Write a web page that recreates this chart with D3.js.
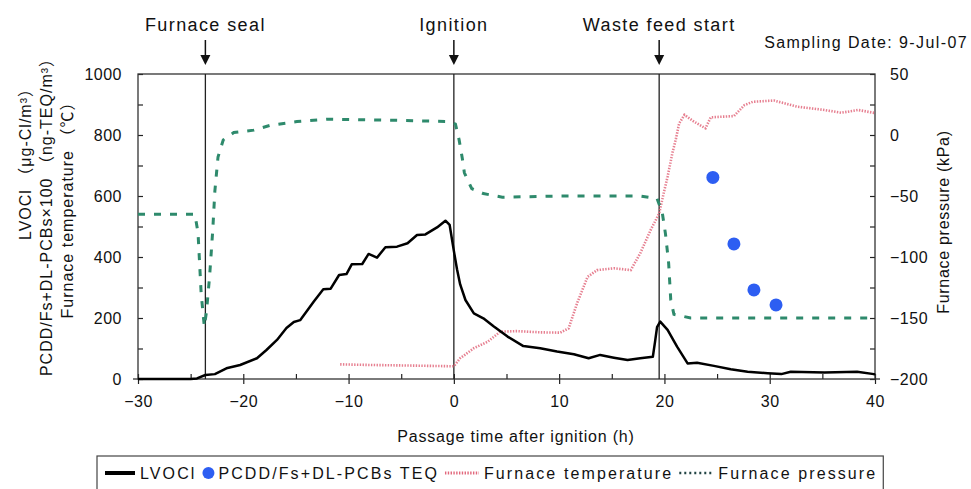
<!DOCTYPE html>
<html>
<head>
<meta charset="utf-8">
<script src="https://cdn.jsdelivr.net/npm/d3@7"></script>
<style>
body { margin: 0; background: #fff; }
text { font-family: "Liberation Sans", "Noto Sans CJK JP", sans-serif; fill: #111; }
</style>
</head>
<body>
<div id="chart"></div>
<script>
// values: [hours after ignition, value]
var lvocl = [[-30,0],[-25,0],[-24.4,2],[-23.6,13],[-22.7,16],[-21.6,35],[-20.3,46],[-18.7,68],[-17.8,95],
  [-16.8,128],[-15.9,167],[-15.2,187],[-14.6,193],[-13.3,254],[-12.4,294],[-11.7,296],[-10.9,341],[-10.2,344],
  [-9.7,376],[-8.7,377],[-8.1,410],[-7.3,398],[-6.5,432],[-5.4,434],[-4.4,445],[-3.5,472],[-2.7,474],
  [-1.6,497],[-0.8,519],[-0.4,505],[0,420],[0.3,360],[0.6,310],[1.1,259],[1.9,215],[2.8,199],[3.8,172],
  [5.1,139],[6.6,108],[8.2,101],[9.8,90],[11.4,81],[12.8,68],[13.9,79],[15.2,70],[16.5,62],[17.7,68],
  [18.9,73],[19.1,120],[19.3,170],[19.6,188],[20.3,161],[21.2,106],[22.2,51],[23.1,53],[24.7,43],[26.3,32],
  [27.9,24],[29.8,19],[31.1,16],[32,24],[35.2,21],[38.3,24],[39.9,16],[40,14]];

var teq = [[24.6,661],[26.6,443],[28.5,292],[30.6,243]];

var furnaceTemp = [[-10.8,48],[-8,46],[-4,44],[-0.5,42],[0,42],[0.6,68],[1.9,101],[3.2,122],[4.4,155],
  [6,157],[8.2,153],[10.1,152],[10.9,166],[11.7,248],[12.7,335],[13.6,357],[15.2,363],[16.8,357],[17.7,412],
  [18.7,489],[19.5,543],[20,620],[20.3,663],[20.75,740],[21.1,789],[21.4,838],[21.9,866],[22.8,844],
  [23.9,822],[24.4,858],[26.6,862],[27.6,898],[28.4,909],[30.4,913],[32.6,893],[35.2,882],[36.8,873],
  [38.4,882],[40,872]];

var furnacePressure = [[-30,-65],[-24.6,-65],[-24.3,-80],[-24,-130],[-23.7,-157],[-23.5,-145],[-23.2,-116],
  [-22.9,-78],[-22.7,-46],[-22.4,-18],[-21.9,-4],[-20.9,2],[-19,4],[-17.4,8],[-14.9,11],[-12,13],[-5,12],
  [-0.5,11],[0.15,9],[0.5,-4],[0.8,-19],[1,-31],[1.7,-44],[2.8,-48],[4.6,-51],[10,-50],[17.7,-50],
  [19.3,-52],[19.8,-64],[20.1,-81],[20.4,-105],[20.6,-135],[20.9,-147],[22.5,-150],[39.6,-150]];

var xTicks = [-30,-20,-10,0,10,20,30,40];
var leftTicks = [0,200,400,600,800,1000];
var rightTicks = [-200,-150,-100,-50,0,50];
var events = [["Furnace seal",-23.6],["Ignition",0],["Waste feed start",19.5]];
var legendNames = ["LVOCl","PCDD/Fs+DL-PCBs TEQ","Furnace temperature","Furnace pressure"];

var width = 971, height = 489;
var plotL = 138, plotR = 875, plotT = 74, plotB = 379;

var svg = d3.select("#chart").append("svg")
  .attr("width", width)
  .attr("height", height);

var x = d3.scaleLinear().domain([-30, 40]).range([plotL, plotR]);
var y = d3.scaleLinear().domain([0, 1000]).range([plotB, plotT]);
var y2 = d3.scaleLinear().domain([-200, 50]).range([plotB, plotT]);

var green = "#2e8a6c", pink = "#e2687c", blue = "#2d5ef2";

// axes
var fmt = function (d) { return String(d).replace("-", "\u2212"); };

svg.append("g").attr("transform", "translate(" + plotL + ",0)")
  .call(d3.axisLeft(y).tickValues(leftTicks).tickSize(-5).tickPadding(16).tickFormat(fmt));
svg.append("g").attr("transform", "translate(" + plotL + ",0)")
  .call(d3.axisLeft(y).tickValues([100,300,500,700,900]).tickSize(-5).tickFormat(""));
svg.append("g").attr("transform", "translate(" + plotR + ",0)")
  .call(d3.axisRight(y2).tickValues(d3.range(-200, 51, 25)).tickSize(-5).tickPadding(15)
    .tickFormat(function (d) { return rightTicks.indexOf(d) >= 0 ? fmt(d) : ""; }));
svg.append("g").attr("transform", "translate(0," + plotB + ")")
  .call(d3.axisBottom(x).tickValues(xTicks).tickSize(5).tickPadding(12).tickFormat(fmt));
svg.append("g").attr("transform", "translate(0," + plotB + ")")
  .call(d3.axisBottom(x).tickValues(d3.range(-30, 41, 5)).tickSize(-5).tickFormat(""));

svg.selectAll(".domain").remove();
svg.selectAll(".tick line").attr("stroke", "#222").attr("stroke-width", 1.2);
svg.selectAll(".tick text").attr("font-size", 16).attr("fill", "#111")
  .attr("letter-spacing", 0.5)
  .attr("font-family", "Liberation Sans, sans-serif");

// outward stubs at the zero / -200 line
svg.append("line").attr("x1", plotL - 5).attr("x2", plotL).attr("y1", plotB).attr("y2", plotB)
  .attr("stroke", "#222").attr("stroke-width", 1.2);
svg.append("line").attr("x1", plotR).attr("x2", plotR + 5).attr("y1", plotB).attr("y2", plotB)
  .attr("stroke", "#222").attr("stroke-width", 1.2);

// frame
svg.append("rect")
  .attr("x", plotL).attr("y", plotT)
  .attr("width", plotR - plotL).attr("height", plotB - plotT)
  .attr("fill", "none").attr("stroke", "#333").attr("stroke-width", 1.3);

// event lines, arrows and labels
events.forEach(function (e) {
  var ex = x(e[1]);
  svg.append("line").attr("x1", ex).attr("x2", ex).attr("y1", plotT).attr("y2", plotB)
    .attr("stroke", "#222").attr("stroke-width", 1.3);
  svg.append("line").attr("x1", ex).attr("x2", ex).attr("y1", 40).attr("y2", 56)
    .attr("stroke", "#111").attr("stroke-width", 1.5);
  svg.append("path").attr("d", "M" + (ex - 5) + ",55L" + (ex + 5) + ",55L" + ex + ",65Z").attr("fill", "#111");
  svg.append("text").attr("x", ex).attr("y", 31).attr("text-anchor", "middle")
    .attr("font-size", 18).attr("letter-spacing", 1.4).text(e[0]);
});

svg.append("text").attr("x", 968).attr("y", 48).attr("text-anchor", "end")
  .attr("font-size", 16).attr("letter-spacing", 1.4).text("Sampling Date: 9-Jul-07");

// series
var line = function (scale) {
  return d3.line().x(function (d) { return x(d[0]); }).y(function (d) { return scale(d[1]); });
};

svg.append("path").datum(furnaceTemp)
  .attr("d", line(y)).attr("fill", "none")
  .attr("stroke", pink).attr("stroke-width", 2.6).attr("stroke-dasharray", "1.4 1.4")
  .attr("opacity", 0.85);

svg.append("path").datum(furnacePressure)
  .attr("d", line(y2)).attr("fill", "none")
  .attr("stroke", green).attr("stroke-width", 3).attr("stroke-dasharray", "7 9");

svg.append("path").datum(lvocl)
  .attr("d", line(y)).attr("fill", "none")
  .attr("stroke", "#000").attr("stroke-width", 2.5).attr("stroke-linejoin", "round");

svg.selectAll("circle.teq").data(teq).join("circle")
  .attr("class", "teq")
  .attr("cx", function (d) { return x(d[0]); })
  .attr("cy", function (d) { return y(d[1]); })
  .attr("r", 6.5).attr("fill", blue);

// axis titles
svg.append("text").attr("x", 516).attr("y", 442).attr("text-anchor", "middle")
  .attr("font-size", 16).attr("letter-spacing", 0.8).text("Passage time after ignition (h)");

var leftTitles = [
  ["LVOCl （μg-Cl/m³）", 25, 160],
  ["PCDD/Fs+DL-PCBs×100 （ng-TEQ/m³）", 46, 213],
  ["Furnace temperature （℃）", 67, 206]
];
leftTitles.forEach(function (t) {
  svg.append("text")
    .attr("transform", "translate(" + t[1] + "," + t[2] + ") rotate(-90)")
    .attr("text-anchor", "middle").attr("dominant-baseline", "central")
    .attr("font-size", 16).attr("letter-spacing", 1).text(t[0]);
});
svg.append("text")
  .attr("transform", "translate(943,222) rotate(-90)")
  .attr("text-anchor", "middle").attr("dominant-baseline", "central")
  .attr("font-size", 16).attr("letter-spacing", 0.7).text("Furnace pressure (kPa)");

// legend
var lg = svg.append("g");
var ly = 473, lx = 105;
legendNames.forEach(function (name, i) {
  if (i == 0) {
    lg.append("line").attr("x1", lx).attr("x2", lx + 30).attr("y1", ly).attr("y2", ly)
      .attr("stroke", "#000").attr("stroke-width", 4);
    lx += 35;
  } else if (i == 1) {
    lg.append("circle").attr("cx", lx + 6).attr("cy", ly).attr("r", 6).attr("fill", blue);
    lx += 16;
  } else if (i == 2) {
    lg.append("line").attr("x1", lx).attr("x2", lx + 34).attr("y1", ly).attr("y2", ly)
      .attr("stroke", pink).attr("stroke-width", 3).attr("stroke-dasharray", "1.4 1.4");
    lx += 39;
  } else {
    lg.append("line").attr("x1", lx).attr("x2", lx + 34).attr("y1", ly).attr("y2", ly)
      .attr("stroke", "#244").attr("stroke-width", 2.5).attr("stroke-dasharray", "2 3");
    lx += 39;
  }
  var t = lg.append("text").attr("x", lx).attr("y", ly).attr("dominant-baseline", "central")
    .attr("font-size", 16).attr("letter-spacing", 2.1).text(name);
  lx += t.node().getComputedTextLength() + 6;
});
lg.insert("rect", ":first-child")
  .attr("x", 97).attr("y", 456).attr("width", lx - 97).attr("height", 40)
  .attr("fill", "#fff").attr("stroke", "#444").attr("stroke-width", 1.2);
</script>
</body>
</html>
